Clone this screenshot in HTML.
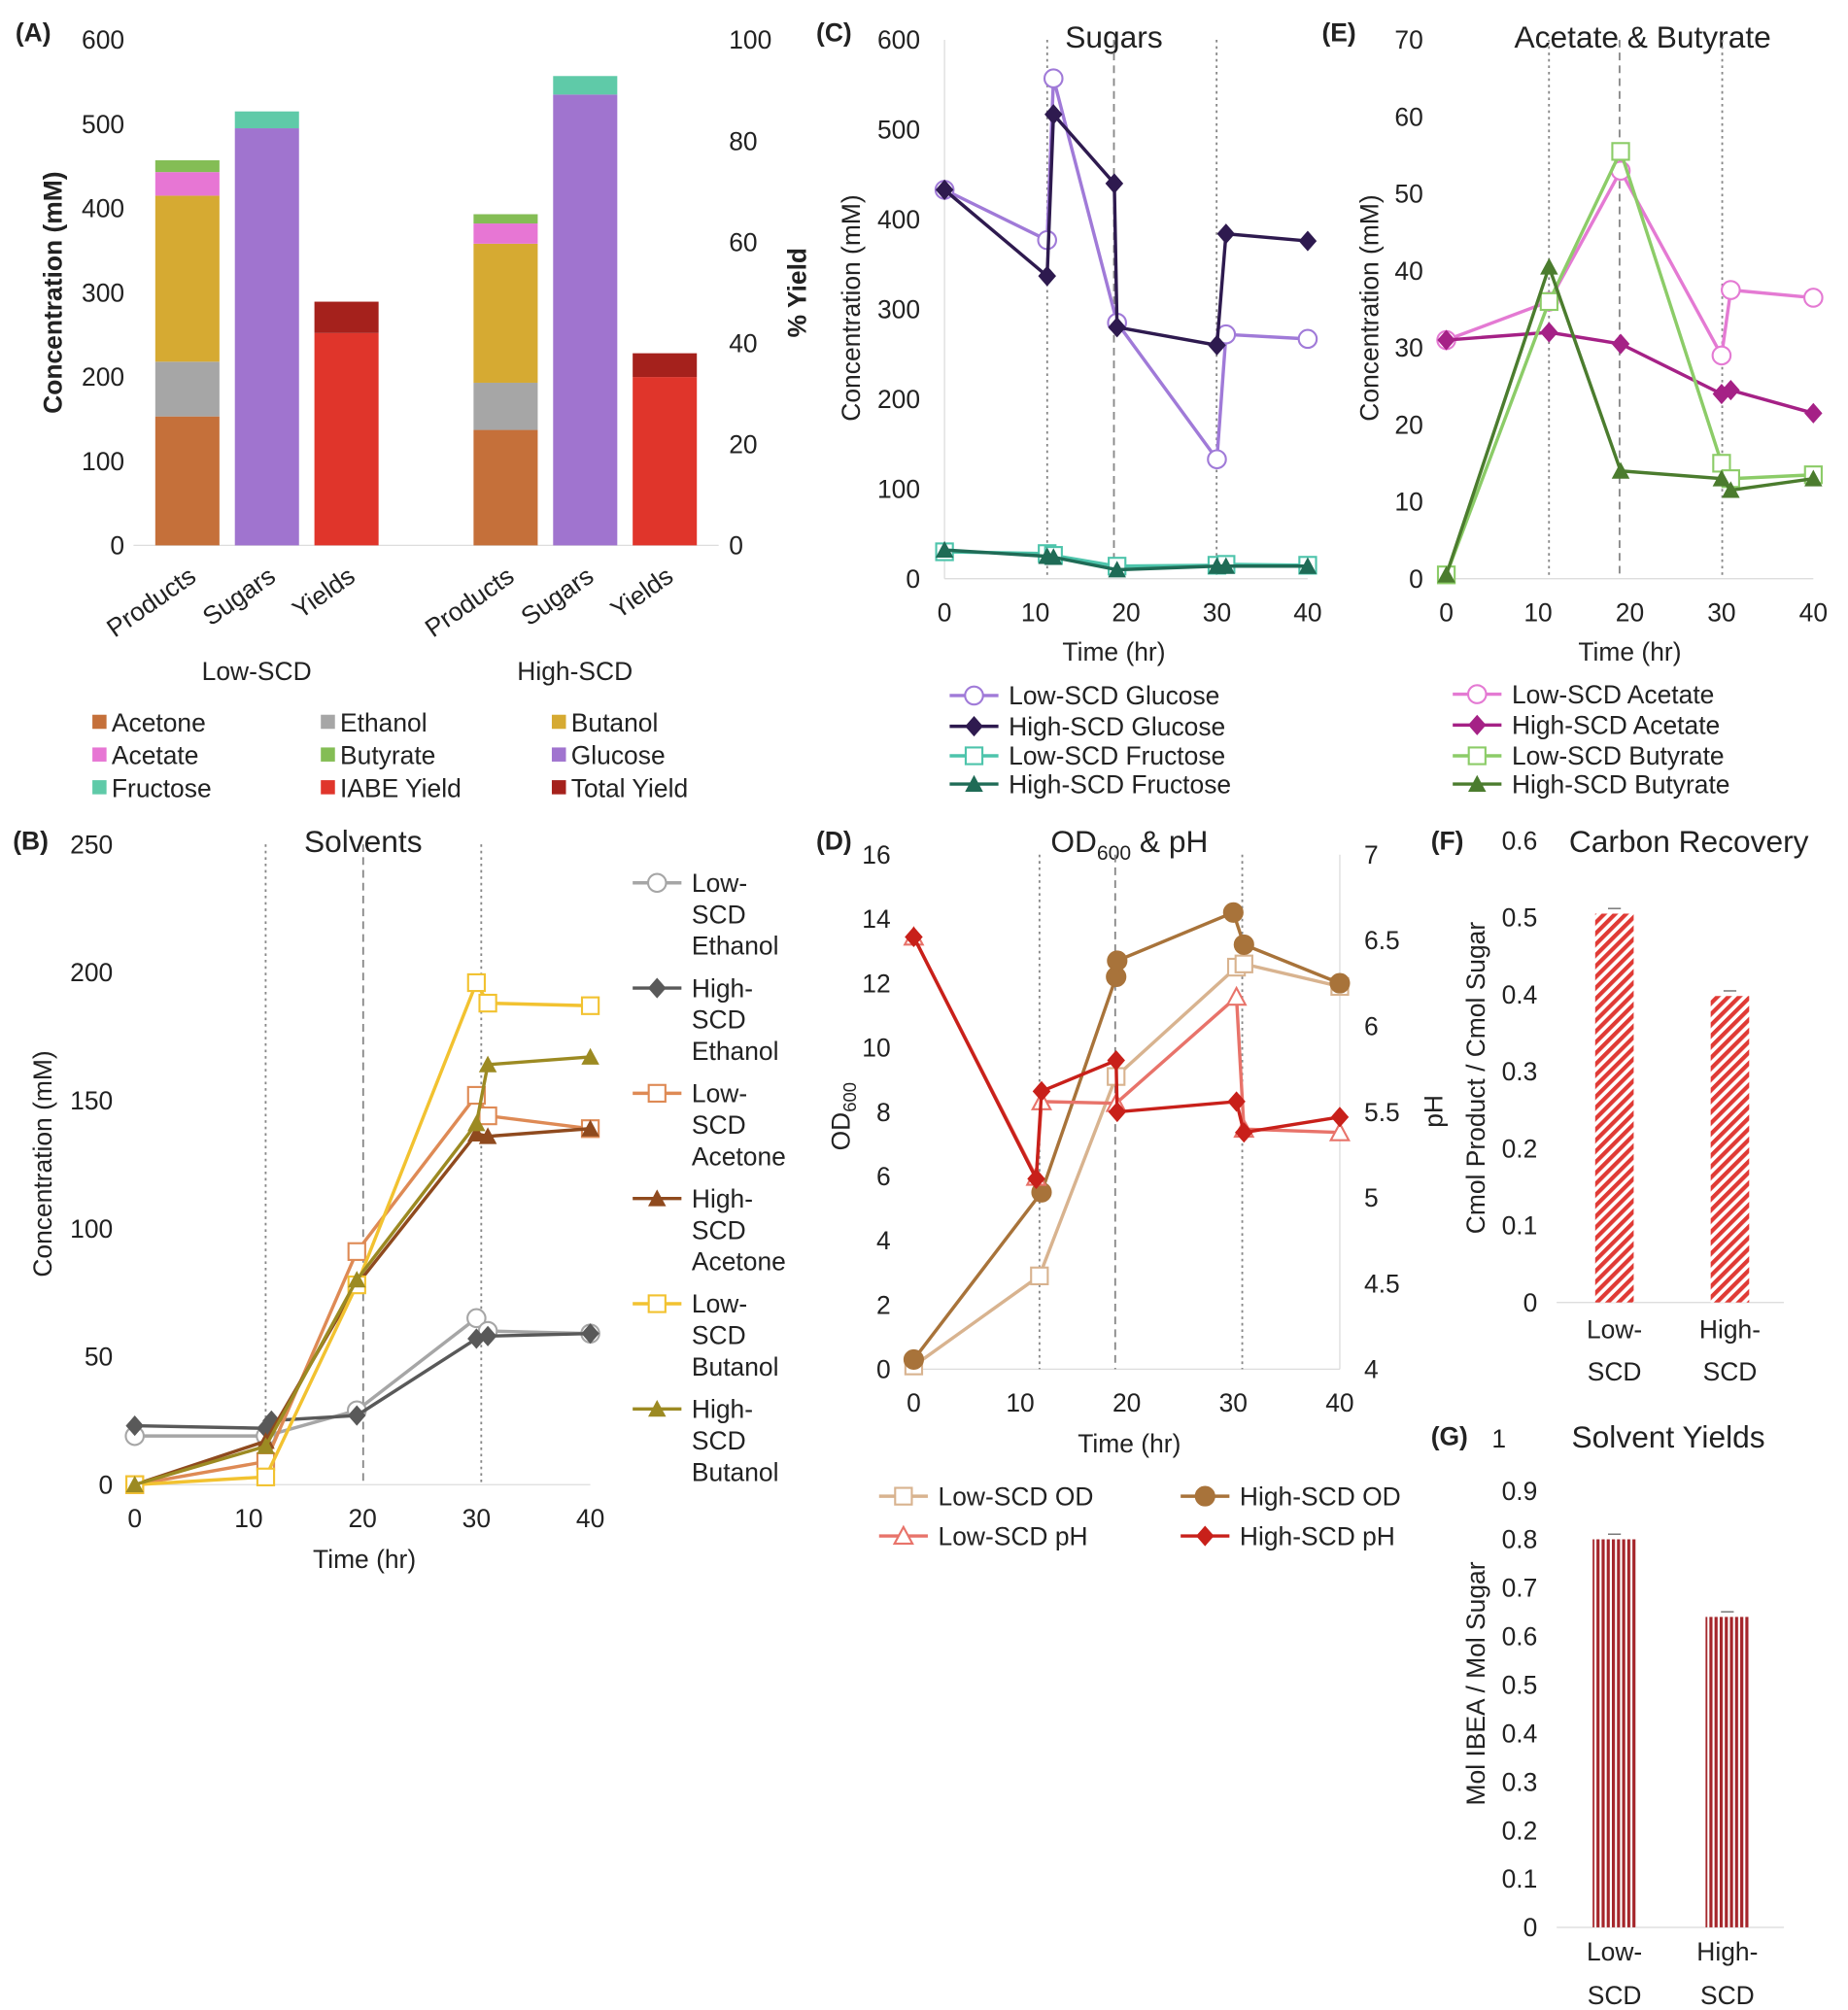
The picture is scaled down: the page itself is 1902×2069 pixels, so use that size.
<!DOCTYPE html>
<html><head><meta charset="utf-8"><style>
html,body{margin:0;padding:0;background:#fff}
svg{display:block;font-family:"Liberation Sans",Arial,sans-serif}
</style></head><body>
<svg id="fig" width="1902" height="2069" viewBox="0 0 1440 1566.4" xmlns="http://www.w3.org/2000/svg">
<defs>
<pattern id="hatchF" width="6" height="6" patternUnits="userSpaceOnUse" patternTransform="rotate(45)"><rect width="6" height="6" fill="#fff"/><rect width="3.2" height="6" fill="#e03a35"/></pattern>
<pattern id="hatchG" width="4" height="4" patternUnits="userSpaceOnUse"><rect width="4" height="4" fill="#fff"/><rect width="2.4" height="4" fill="#a5262b"/></pattern>
</defs>
<g id="root"></g>
</svg>
<script>
// ---------- DATA ----------
const aGroups=["Low-SCD","High-SCD"];
const aAcetone=[153,137], aEthanol=[65,56], aButanol=[197,165], aAcetate=[28,24], aButyrate=[14,11];
const aGlucose=[495,535], aFructose=[20,22];
const aIabeYield=[42,33.3], aTotalYieldExtra=[6.2,4.7];
const aTicksL=[0,100,200,300,400,500,600], aTicksR=[0,20,40,60,80,100];

const bLowEthT=[0,11.5,19.5,30,31,40], bLowEth=[19,19,29,65,60,59];
const bHighEthT=[0,11.5,12,19.5,30,31,40], bHighEth=[23,22,25,27,57,58,59];
const bLowAceT=[0,11.5,19.5,30,31,40], bLowAce=[0,9,91,152,144,139];
const bHighAceT=[0,11.5,19.5,30,31,40], bHighAce=[0,17,78,137,136,139];
const bLowButT=[0,11.5,19.5,30,31,40], bLowBut=[0,3,78,196,188,187];
const bHighButT=[0,11.5,19.5,30,31,40], bHighBut=[0,15,80,141,164,167];

const cLowGluT=[0,11.3,12,19,30,31,40], cLowGlu=[433,377,557,285,133,272,267];
const cHighGluT=[0,11.3,12,18.7,19,30,31,40], cHighGlu=[433,337,517,440,280,260,384,376];
const cLowFruT=[0,11.3,12,19,30,31,40], cLowFru=[30,28,26,14,15,16,15];
const cHighFruT=[0,11.3,12,19,30,31,40], cHighFru=[32,25,24,10,14,14,14];

const eLowAcT=[0,11.2,19,30,31,40], eLowAc=[31,36,53,29,37.5,36.5];
const eHighAcT=[0,11.2,19,30,31,40], eHighAc=[31,32,30.5,24,24.5,21.5];
const eLowBuT=[0,11.2,19,30,31,40], eLowBu=[0.5,36,55.5,15,13,13.5];
const eHighBuT=[0,11.2,19,30,31,40], eHighBu=[0.5,40.5,14,13,11.5,13];

const dLowOdT=[0,11.8,19,30.3,31,40], dLowOd=[0.1,2.9,9.1,12.5,12.6,11.9];
const dHighOdT=[0,12,19,19.1,30,31,40], dHighOd=[0.3,5.5,12.2,12.7,14.2,13.2,12];
const dLowPhT=[0,11.5,12,19,30.3,31,40], dLowPh=[6.52,5.12,5.56,5.55,6.17,5.40,5.38];
const dHighPhT=[0,11.5,12,19,19.1,30.3,31,40], dHighPh=[6.52,5.11,5.62,5.80,5.50,5.56,5.38,5.47];

const fCats=["Low-SCD","High-SCD"], fVals=[0.505,0.398];
const gCats=["Low-SCD","High-SCD"], gVals=[0.80,0.64];

// ---------- HELPERS ----------
const NS="http://www.w3.org/2000/svg", root=document.getElementById('root');
function el(tag,attrs,parent,text){const e=document.createElementNS(NS,tag);for(const k in attrs)e.setAttribute(k,attrs[k]);if(text!==undefined)e.textContent=text;(parent||root).appendChild(e);return e;}
function txt(x,y,s,size,anchor,parent,extra){const t=el('text',Object.assign({x:x,y:y,'font-size':size,'text-anchor':anchor||'start',fill:'#222'},extra||{}),parent,s);return t;}
function lin(x0,x1,v0,v1){return v=>x0+(v-v0)*(x1-x0)/(v1-v0);}
function marker(g,type,x,y,c){
  const r=7;
  if(type==='ocirc')el('circle',{cx:x,cy:y,r:r,fill:'#fff',stroke:c,'stroke-width':1.6},g);
  else if(type==='fcirc')el('circle',{cx:x,cy:y,r:r+0.5,fill:c,stroke:c},g);
  else if(type==='osq')el('rect',{x:x-r+0.5,y:y-r+0.5,width:2*r-1,height:2*r-1,fill:'#fff',stroke:c,'stroke-width':1.6},g);
  else if(type==='fdia')el('polygon',{points:`${x},${y-r-1} ${x+r},${y} ${x},${y+r+1} ${x-r},${y}`,fill:c},g);
  else if(type==='ftri')el('polygon',{points:`${x},${y-r} ${x+r},${y+r-1} ${x-r},${y+r-1}`,fill:c},g);
  else if(type==='otri')el('polygon',{points:`${x},${y-r} ${x+r},${y+r-1} ${x-r},${y+r-1}`,fill:'#fff',stroke:c,'stroke-width':1.6},g);
}
function series(name,ts,vs,xs,ys,c,type){
  const g=el('g',{});
  
  
  const pts=ts.map((t,i)=>xs(t)+','+ys(vs[i])).join(' ');
  el('polyline',{points:pts,fill:'none',stroke:c,'stroke-width':2.6},g);
  ts.forEach((t,i)=>marker(g,type,xs(t),ys(vs[i]),c));
}
function vline(x,y0,y1,dash,name){const l=el('line',{x1:x,x2:x,y1:y0,y2:y1,stroke:'#888','stroke-width':1.4,'stroke-dasharray':dash});
  
  }
function legendEntry(x,y,lines,c,type,name){
  const g=el('g',{});
  
  
  el('line',{x1:x,x2:x+38,y1:y,y2:y,stroke:c,'stroke-width':2.6},g);
  marker(g,type,x+19,y,c);
  lines.forEach((s,i)=>txt(x+46,y+7+i*24.5,s,20,'start',g));
}
function axisY(ticks,ys,x,anchor,name,fmt){
  const g=el('g',{});
  
  
  ticks.forEach(t=>txt(x,ys(t)+7,fmt?fmt(t):String(t),20,anchor,g));
}
function axisX(ticks,xs,y,name){
  const g=el('g',{});
  
  
  ticks.forEach(t=>txt(xs(t),y,String(t),20,'middle',g));
}
function rotTitle(x,y,s,name,bold,size){
  const t=txt(x,y,s,size||20,'middle',null,{transform:`rotate(-90 ${x} ${y})`,'font-weight':bold?'bold':'normal'});
  
  
  return t;
}
function label(x,y,s,name,size,anchor,bold){
  const t=txt(x,y,s,size,anchor||'start',null,bold?{'font-weight':'bold'}:{});
  
  
  return t;
}

// ---------- PANEL A ----------
const aY=lin(425,31,0,600), aYr=lin(425,31,0,100);
label(12,32,'(A)','panel-a-label',20,'start',true);
axisY(aTicksL,aY,97,'end','a-left-axis-ticks');
axisY(aTicksR,aYr,568,'start','a-right-axis-ticks');
rotTitle(48,228,'Concentration (mM)','a-y-axis-title',true);
rotTitle(628,228,'% Yield','a-y2-axis-title',true);
el('line',{x1:104,x2:560,y1:425,y2:425,stroke:'#ddd','stroke-width':1});
const aColors={Acetone:'#c5703a',Ethanol:'#a6a6a6',Butanol:'#d6aa32',Acetate:'#e776d4',Butyrate:'#84bd55',Glucose:'#a074cf',Fructose:'#5fcaa8',IABE:'#e0352b',Total:'#a5211c'};
const aOffsets=[0,248];
aGroups.forEach((grp,i)=>{
  const ox=aOffsets[i];
  let base=0;
  [['Acetone',aAcetone],['Ethanol',aEthanol],['Butanol',aButanol],['Acetate',aAcetate],['Butyrate',aButyrate]].forEach(([k,arr])=>{
    const r=el('rect',{x:121+ox,width:50,y:aY(base+arr[i]),height:aY(base)-aY(base+arr[i]),fill:aColors[k]});
    
    
    base+=arr[i];
  });
  base=0;
  [['Glucose',aGlucose],['Fructose',aFructose]].forEach(([k,arr])=>{
    const r=el('rect',{x:183+ox,width:50,y:aY(base+arr[i]),height:aY(base)-aY(base+arr[i]),fill:aColors[k]});
    
    
    base+=arr[i];
  });
  base=0;
  [['IABE',aIabeYield],['Total',aTotalYieldExtra]].forEach(([k,arr])=>{
    const r=el('rect',{x:245+ox,width:50,y:aYr(base+arr[i]),height:aYr(base)-aYr(base+arr[i]),fill:aColors[k]});
    
    
    base+=arr[i];
  });
  [['Products',146],['Sugars',208],['Yields',270]].forEach(([s,cx])=>{
    const x=cx+ox+8,y=452;
    const t=txt(x,y,s,20,'end',null,{transform:`rotate(-35 ${x} ${y})`});
    
    
  });
  label(200+ox,530,grp,'a-group-label-'+grp.toLowerCase(),20,'middle');
});
const aLeg=[['Acetone','Ethanol','Butanol'],['Acetate','Butyrate','Glucose'],['Fructose','IABE','Total']];
const aLegNames={IABE:'IABE Yield',Total:'Total Yield'};
aLeg.forEach((row,r)=>row.forEach((k,c)=>{
  const g=el('g',{});
  
  
  const x=[72,250,430][c], y=563+r*25.5;
  el('rect',{x:x,y:y-6,width:11,height:11,fill:aColors[k]},g);
  txt(x+15,y+7,aLegNames[k]||k,20,'start',g);
}));

// ---------- PANEL B ----------
const bX=lin(105,460,0,40), bY=lin(1157,658,0,250);
label(10,662,'(B)','panel-b-label',20,'start',true);
label(283,664,'Solvents','b-title',24,'middle');
el('line',{x1:105,x2:460,y1:1157,y2:1157,stroke:'#ddd'});
vline(207,658,1157,'2,3','b-feed-line-1');vline(283,658,1157,'6,4','b-feed-line-2');vline(375,658,1157,'2,3','b-feed-line-3');
axisY([0,50,100,150,200,250],bY,88,'end','b-y-axis-ticks');
axisX([0,10,20,30,40],bX,1190,'b-x-axis-ticks');
rotTitle(40,907,'Concentration (mM)','b-y-axis-title');
label(284,1222,'Time (hr)','b-x-axis-title',20,'middle');
series('series-low-scd-ethanol',bLowEthT,bLowEth,bX,bY,'#a6a6a6','ocirc');
series('series-high-scd-ethanol',bHighEthT,bHighEth,bX,bY,'#595959','fdia');
series('series-low-scd-acetone',bLowAceT,bLowAce,bX,bY,'#de8a55','osq');
series('series-high-scd-acetone',bHighAceT,bHighAce,bX,bY,'#8f4a1e','ftri');
series('series-low-scd-butanol',bLowButT,bLowBut,bX,bY,'#f2c230','osq');
series('series-high-scd-butanol',bHighButT,bHighBut,bX,bY,'#9c8a22','ftri');
[['Ethanol','#a6a6a6','ocirc','Low'],['Ethanol','#595959','fdia','High'],['Acetone','#de8a55','osq','Low'],['Acetone','#8f4a1e','ftri','High'],['Butanol','#f2c230','osq','Low'],['Butanol','#9c8a22','ftri','High']].forEach((e,i)=>{
  legendEntry(493,688+i*82,[e[3]+'-','SCD',e[0]],e[1],e[2],'legend-'+e[3].toLowerCase()+'-scd-'+e[0].toLowerCase());
});

// ---------- PANEL C ----------
const cX=lin(736,1019,0,40), cY=lin(451,31,0,600);
label(636,32,'(C)','panel-c-label',20,'start',true);
label(868,37,'Sugars','c-title',24,'middle');
el('line',{x1:736,x2:736,y1:31,y2:451,stroke:'#ddd'});
el('line',{x1:736,x2:1019,y1:451,y2:451,stroke:'#ddd'});
vline(816,31,451,'2,3','c-feed-line-1');vline(868,31,451,'6,4','c-feed-line-2');vline(948,31,451,'2,3','c-feed-line-3');
axisY([0,100,200,300,400,500,600],cY,717,'end','c-y-axis-ticks');
axisX([0,10,20,30,40],cX,484,'c-x-axis-ticks');
rotTitle(670,240,'Concentration (mM)','c-y-axis-title');
label(868,515,'Time (hr)','c-x-axis-title',20,'middle');
series('series-low-scd-fructose',cLowFruT,cLowFru,cX,cY,'#4dc4ab','osq');
series('series-high-scd-fructose',cHighFruT,cHighFru,cX,cY,'#1f6b56','ftri');
series('series-low-scd-glucose',cLowGluT,cLowGlu,cX,cY,'#a07ad8','ocirc');
series('series-high-scd-glucose',cHighGluT,cHighGlu,cX,cY,'#2e1a4f','fdia');
legendEntry(740,542,['Low-SCD Glucose'],'#a07ad8','ocirc','legend-low-scd-glucose');
legendEntry(740,566,['High-SCD Glucose'],'#2e1a4f','fdia','legend-high-scd-glucose');
legendEntry(740,589,['Low-SCD Fructose'],'#4dc4ab','osq','legend-low-scd-fructose');
legendEntry(740,611,['High-SCD Fructose'],'#1f6b56','ftri','legend-high-scd-fructose');

// ---------- PANEL E ----------
const eX=lin(1127,1413,0,40), eY=lin(451,31,0,70);
label(1030,32,'(E)','panel-e-label',20,'start',true);
label(1280,37,'Acetate & Butyrate','e-title',24,'middle');
el('line',{x1:1127,x2:1413,y1:451,y2:451,stroke:'#ddd'});
vline(1207,31,451,'2,3','e-feed-line-1');vline(1262,31,451,'6,4','e-feed-line-2');vline(1342,31,451,'2,3','e-feed-line-3');
axisY([0,10,20,30,40,50,60,70],eY,1109,'end','e-y-axis-ticks');
axisX([0,10,20,30,40],eX,484,'e-x-axis-ticks');
rotTitle(1074,240,'Concentration (mM)','e-y-axis-title');
label(1270,515,'Time (hr)','e-x-axis-title',20,'middle');
series('series-low-scd-acetate',eLowAcT,eLowAc,eX,eY,'#e47ad3','ocirc');
series('series-high-scd-acetate',eHighAcT,eHighAc,eX,eY,'#a52186','fdia');
series('series-low-scd-butyrate',eLowBuT,eLowBu,eX,eY,'#8ccc68','osq');
series('series-high-scd-butyrate',eHighBuT,eHighBu,eX,eY,'#4b7c2e','ftri');
legendEntry(1132,541,['Low-SCD Acetate'],'#e47ad3','ocirc','legend-low-scd-acetate');
legendEntry(1132,565,['High-SCD Acetate'],'#a52186','fdia','legend-high-scd-acetate');
legendEntry(1132,589,['Low-SCD Butyrate'],'#8ccc68','osq','legend-low-scd-butyrate');
legendEntry(1132,611,['High-SCD Butyrate'],'#4b7c2e','ftri','legend-high-scd-butyrate');

// ---------- PANEL D ----------
const dX=lin(712,1044,0,40), dY=lin(1067,666,0,16), dY2=lin(1067,666,4,7);
label(636,662,'(D)','panel-d-label',20,'start',true);
const dt=label(880,664,'OD','d-title',24,'middle');
const ds=el('tspan',{'font-size':16,dy:6},dt,'600');const ds2=el('tspan',{dy:-6},dt,' & pH');
el('line',{x1:712,x2:1044,y1:1067,y2:1067,stroke:'#ddd'});
el('line',{x1:1044,x2:1044,y1:666,y2:1067,stroke:'#ddd'});
vline(810,666,1067,'2,3','d-feed-line-1');vline(869,666,1067,'6,4','d-feed-line-2');vline(968,666,1067,'2,3','d-feed-line-3');
axisY([0,2,4,6,8,10,12,14,16],dY,694,'end','d-y-axis-ticks');
axisY([4,4.5,5,5.5,6,6.5,7],dY2,1063,'start','d-y2-axis-ticks');
axisX([0,10,20,30,40],dX,1100,'d-x-axis-ticks');
const odt=rotTitle(662,870,'OD','d-y-axis-title');el('tspan',{'font-size':14,dy:5},odt,'600');
rotTitle(1124,866,'pH','d-y2-axis-title');
label(880,1132,'Time (hr)','d-x-axis-title',20,'middle');
series('series-low-scd-od',dLowOdT,dLowOd,dX,dY,'#d8b38f','osq');
series('series-high-scd-od',dHighOdT,dHighOd,dX,dY,'#a8733a','fcirc');
series('series-low-scd-ph',dLowPhT,dLowPh,dX,dY2,'#e8736a','otri');
series('series-high-scd-ph',dHighPhT,dHighPh,dX,dY2,'#c8201a','fdia');
legendEntry(685,1166,['Low-SCD OD'],'#d8b38f','osq','legend-low-scd-od');
legendEntry(920,1166,['High-SCD OD'],'#a8733a','fcirc','legend-high-scd-od');
legendEntry(685,1197,['Low-SCD pH'],'#e8736a','otri','legend-low-scd-ph');
legendEntry(920,1197,['High-SCD pH'],'#c8201a','fdia','legend-high-scd-ph');

// ---------- PANEL F ----------
const fY=lin(1015,655,0,0.6), fCx=[1258,1348];
label(1115,662,'(F)','panel-f-label',20,'start',true);
label(1316,664,'Carbon Recovery','f-title',24,'middle');
axisY([0,0.1,0.2,0.3,0.4,0.5,0.6],fY,1198,'end','f-y-axis-ticks',v=>v===0?'0':String(v));
rotTitle(1157,840,'Cmol Product / Cmol Sugar','f-y-axis-title');
el('line',{x1:1213,x2:1390,y1:1015,y2:1015,stroke:'#ddd'});
fCats.forEach((c,i)=>{
  const r=el('rect',{x:fCx[i]-15,width:30,y:fY(fVals[i]),height:fY(0)-fY(fVals[i]),fill:'url(#hatchF)'});
  
  
  el('line',{x1:fCx[i]-5,x2:fCx[i]+5,y1:fY(fVals[i])-4,y2:fY(fVals[i])-4,stroke:'#666'});
  label(fCx[i],1043,c.split('-')[0]+'-','f-x-label-'+i,20,'middle');
  label(fCx[i],1076,'SCD','f-x-label-scd-'+i,20,'middle');
});

// ---------- PANEL G ----------
const gY=lin(1502,1124,0,1), gCx=[1258,1346];
label(1115,1126,'(G)','panel-g-label',20,'start',true);
label(1168,1128,'1','g-top-tick',20,'middle');
label(1300,1128,'Solvent Yields','g-title',24,'middle');
axisY([0,0.1,0.2,0.3,0.4,0.5,0.6,0.7,0.8,0.9],gY,1198,'end','g-y-axis-ticks',v=>v===0?'0':String(v));
rotTitle(1157,1312,'Mol IBEA / Mol Sugar','g-y-axis-title');
el('line',{x1:1213,x2:1390,y1:1502,y2:1502,stroke:'#ddd'});
gCats.forEach((c,i)=>{
  const r=el('rect',{x:gCx[i]-17,width:34,y:gY(gVals[i]),height:gY(0)-gY(gVals[i]),fill:'url(#hatchG)'});
  
  
  el('line',{x1:gCx[i]-5,x2:gCx[i]+5,y1:gY(gVals[i])-4,y2:gY(gVals[i])-4,stroke:'#666'});
  label(gCx[i],1528,c.split('-')[0]+'-','g-x-label-'+i,20,'middle');
  label(gCx[i],1562,'SCD','g-x-label-scd-'+i,20,'middle');
});
</script>
</body></html>
